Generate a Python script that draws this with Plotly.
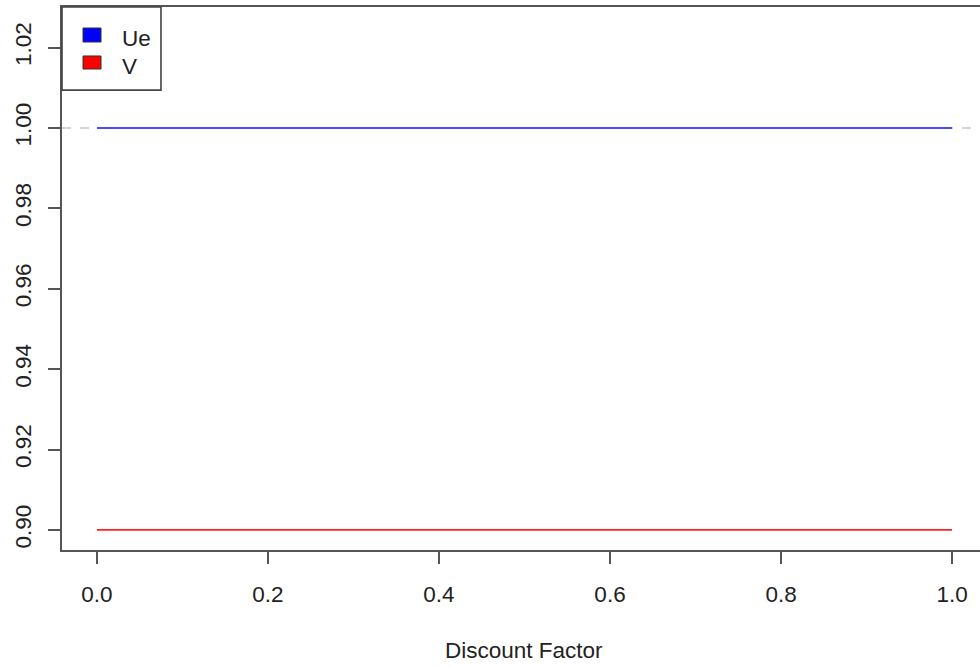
import plotly.graph_objects as go

# Data
discount = [0.0, 0.1, 0.2, 0.3, 0.4, 0.5, 0.6, 0.7, 0.8, 0.9, 1.0]
ue_values = [1.0, 1.0, 1.0, 1.0, 1.0, 1.0, 1.0, 1.0, 1.0, 1.0, 1.0]
v_values = [0.9, 0.9, 0.9, 0.9, 0.9, 0.9, 0.9, 0.9, 0.9, 0.9, 0.9]
series_names = ["Ue", "V"]
series_colors = ["#0000ff", "#ff0000"]
line_colors = ["#4a4aff", "#ff2020"]
ref_line = 1.0
x_ticks = [0.0, 0.2, 0.4, 0.6, 0.8, 1.0]
x_ticklabels = ["0.0", "0.2", "0.4", "0.6", "0.8", "1.0"]
y_ticks = [0.90, 0.92, 0.94, 0.96, 0.98, 1.00, 1.02]
y_ticklabels = ["0.90", "0.92", "0.94", "0.96", "0.98", "1.00", "1.02"]

FONT = "Liberation Sans, Arial, sans-serif"
AXC = "#555555"
FS = 22.5

fig = go.Figure()
fig.add_trace(go.Scatter(x=discount, y=ue_values, mode="lines", name=series_names[0],
                         line=dict(color=line_colors[0], width=2), showlegend=False))
fig.add_trace(go.Scatter(x=discount, y=v_values, mode="lines", name=series_names[1],
                         line=dict(color=line_colors[1], width=1.6), showlegend=False))

# reference dashed line (abline)
fig.add_shape(type="line", xref="paper", x0=0, x1=1, yref="y", y0=ref_line, y1=ref_line,
              line=dict(color="#c8c8c8", width=1.3, dash="dash"), layer="below")

# Legend box drawn manually
fig.add_shape(type="rect", xref="paper", yref="paper", x0=0, x1=0.1078, y0=0.847, y1=1.0,
              line=dict(color="#444444", width=1.6), fillcolor="white")
sq = [(0.9613, 0.9355), (0.9098, 0.8858)]
ty = [0.9429, 0.8913]
for i in range(2):
    fig.add_shape(type="rect", xref="paper", yref="paper", x0=0.0229, x1=0.0425,
                  y0=sq[i][1], y1=sq[i][0], line=dict(color="#333333", width=1),
                  fillcolor=series_colors[i])
    fig.add_annotation(xref="paper", yref="paper", x=0.0632, y=ty[i], text=series_names[i],
                       showarrow=False, xanchor="left", yanchor="middle",
                       font=dict(family=FONT, size=FS, color="#222222"))

fig.add_annotation(xref="paper", yref="paper", x=0.503, y=(550 - 650) / 543,
                   text="Discount Factor", showarrow=False, xanchor="center", yanchor="middle",
                   font=dict(family=FONT, size=FS, color="#222222"))

fig.update_layout(
    width=980, height=667,
    margin=dict(l=62, r=0, t=7, b=117),
    plot_bgcolor="white", paper_bgcolor="white",
    showlegend=False,
    font=dict(family=FONT, size=FS, color="#222222"),
)
fig.update_xaxes(range=[-0.0409, 1.0327], tickvals=x_ticks, ticktext=x_ticklabels,
                 showgrid=False, zeroline=False, showline=True, linecolor=AXC, linewidth=2,
                 mirror=True, ticks="outside", ticklen=12, tickwidth=1.5, tickcolor=AXC,
                 ticklabelstandoff=11, tickfont=dict(family=FONT, size=FS, color="#222222"))
fig.update_yaxes(range=[0.895, 1.0301], tickvals=y_ticks, ticktext=y_ticklabels,
                 showgrid=False, zeroline=False, showline=True, linecolor=AXC, linewidth=2,
                 mirror=False, ticks="outside", ticklen=12, tickwidth=1.5, tickcolor=AXC,
                 tickangle=-90, ticklabelstandoff=8,
                 tickfont=dict(family=FONT, size=FS, color="#222222"))

fig.write_html("out.html", config={"displayModeBar": False},
               post_script="document.body.style.margin='0';document.body.style.overflow='hidden';")
